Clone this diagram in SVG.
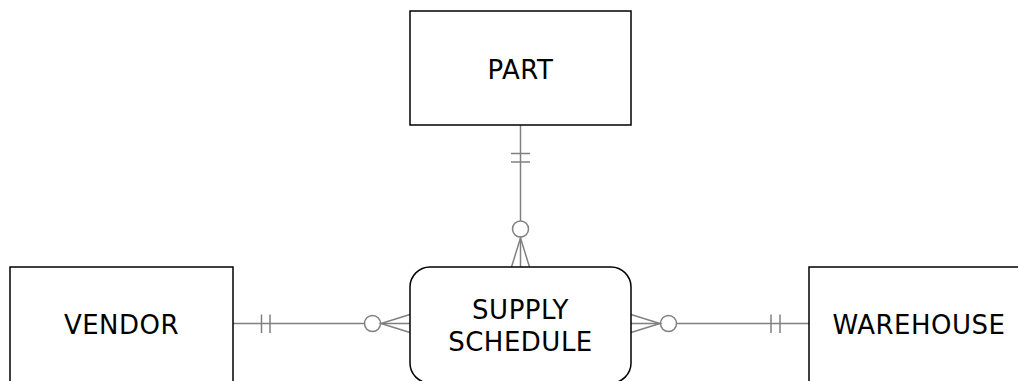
<svg xmlns="http://www.w3.org/2000/svg" width="1018" height="381" viewBox="0 0 1018 381">
<style>
.box{fill:#fff;stroke:#000;stroke-width:1.5}
.lbl{font-family:"DejaVu Sans",sans-serif;font-size:26px;letter-spacing:0.5px;fill:#000;text-anchor:middle}
.cn{fill:none;stroke:#808080;stroke-width:1.5}
.cc{fill:#fff;stroke:#808080;stroke-width:1.5}
</style>
<rect width="1018" height="381" fill="#fff"/>
<g id="connectors">
  <g id="part-supply">
    <line class="cn" x1="520.5" y1="125" x2="520.5" y2="267"/>
    <line class="cn" x1="511" y1="153.5" x2="530" y2="153.5"/>
    <line class="cn" x1="511" y1="162" x2="530" y2="162"/>
    <circle class="cc" cx="520.5" cy="229" r="8"/>
    <path class="cn" d="M511.5,267 L520.5,238 L529.5,267"/>
  </g>
  <g id="vendor-supply">
    <line class="cn" x1="233" y1="323.5" x2="410" y2="323.5"/>
    <line class="cn" x1="261.5" y1="314.5" x2="261.5" y2="333"/>
    <line class="cn" x1="270" y1="314.5" x2="270" y2="333"/>
    <circle class="cc" cx="372.5" cy="323.5" r="8"/>
    <path class="cn" d="M410,314.5 L381,323.5 L410,332.5"/>
  </g>
  <g id="warehouse-supply">
    <line class="cn" x1="631" y1="323.5" x2="809" y2="323.5"/>
    <line class="cn" x1="771" y1="314.5" x2="771" y2="333"/>
    <line class="cn" x1="780" y1="314.5" x2="780" y2="333"/>
    <circle class="cc" cx="668.5" cy="323.5" r="8"/>
    <path class="cn" d="M631,314.5 L660,323.5 L631,332.5"/>
  </g>
</g>
<g id="part">
  <rect class="box" x="410" y="11" width="221" height="114"/>
  <text class="lbl" x="520.5" y="79">PART</text>
</g>
<g id="vendor">
  <rect class="box" x="10" y="267" width="223" height="116"/>
  <text class="lbl" x="121.5" y="334">VENDOR</text>
</g>
<g id="supply-schedule">
  <rect class="box" x="410" y="267" width="221" height="116" rx="20" ry="20"/>
  <text class="lbl" x="520.5" y="319">SUPPLY</text>
  <text class="lbl" x="520.5" y="351">SCHEDULE</text>
</g>
<g id="warehouse">
  <rect class="box" x="809" y="267" width="221" height="116"/>
  <text class="lbl" x="919" y="334">WAREHOUSE</text>
</g>
</svg>
